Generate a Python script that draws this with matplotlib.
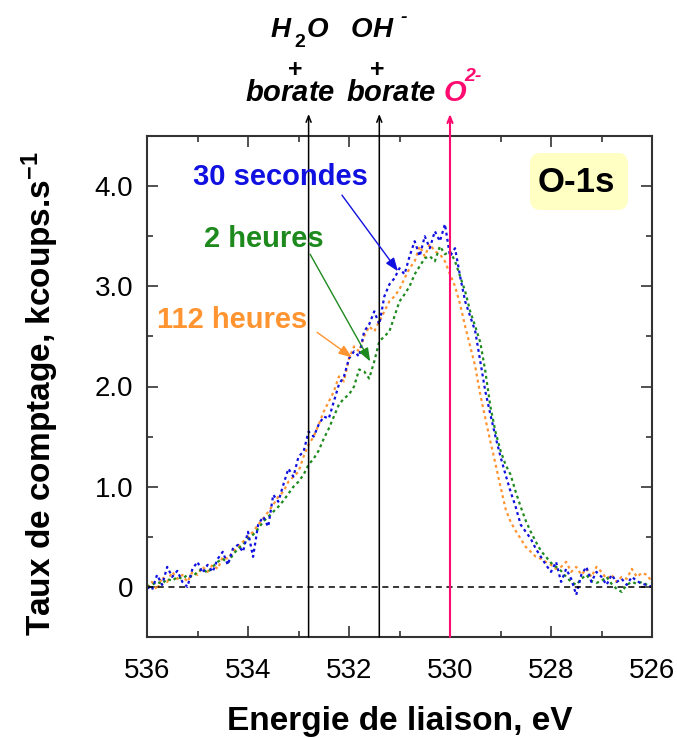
import numpy as np
import matplotlib
matplotlib.use("Agg")
import matplotlib.pyplot as plt
import matplotlib.font_manager as fm
from matplotlib.ticker import MultipleLocator, FuncFormatter
from matplotlib.patches import FancyBboxPatch

# binding energy grid, 536 -> 526 eV, 0.1 eV step
energy = np.round(np.arange(536.0, 525.95, -0.1), 1)

# 30 secondes (blue)
sec30 = [0.00, -0.03, 0.12, 0.02, 0.20, 0.10, 0.16, 0.05, 0.00, 0.18,
         0.25, 0.14, 0.22, 0.15, 0.28, 0.35, 0.22, 0.38, 0.42, 0.35,
         0.55, 0.30, 0.62, 0.70, 0.60, 0.92, 0.85, 1.02, 1.18, 1.10,
         1.30, 1.35, 1.55, 1.50, 1.62, 1.70, 1.68, 1.85, 2.02, 2.10,
         2.28, 2.35, 2.30, 2.55, 2.62, 2.75, 2.62, 2.90, 3.02, 3.08,
         3.18, 3.12, 3.30, 3.45, 3.30, 3.50, 3.38, 3.55, 3.45, 3.62,
         3.30, 3.38, 3.10, 2.85, 2.70, 2.55, 2.25, 1.95, 1.72, 1.50,
         1.30, 1.12, 0.95, 0.80, 0.62, 0.55, 0.48, 0.38, 0.30, 0.22,
         0.15, 0.25, 0.05, 0.18, 0.08, -0.08, 0.12, 0.20, 0.05, 0.15,
         0.10, 0.02, 0.12, 0.05, 0.08, 0.02, 0.10, 0.06, 0.03, 0.02,
         0.00]

# 2 heures (green)
h2 = [0.00, 0.02, 0.05, 0.03, 0.08, 0.06, 0.10, 0.08, 0.12, 0.10,
      0.15, 0.18, 0.14, 0.20, 0.25, 0.28, 0.24, 0.32, 0.38, 0.42,
      0.48, 0.52, 0.58, 0.65, 0.70, 0.75, 0.80, 0.86, 0.93, 1.00,
      1.05, 1.12, 1.22, 1.28, 1.36, 1.48, 1.58, 1.70, 1.82, 1.88,
      1.92, 2.00, 2.17, 2.15, 2.08, 2.25, 2.45, 2.50, 2.55, 2.70,
      2.85, 2.92, 3.00, 3.12, 3.20, 3.28, 3.30, 3.25, 3.40, 3.32,
      3.35, 3.25, 3.10, 2.95, 2.75, 2.60, 2.44, 2.15, 1.80, 1.55,
      1.36, 1.22, 1.12, 0.95, 0.80, 0.66, 0.55, 0.45, 0.36, 0.30,
      0.24, 0.20, 0.16, 0.10, 0.05, 0.02, 0.08, 0.12, 0.06, 0.04,
      0.06, 0.10, 0.03, -0.02, -0.05, 0.02, 0.05, 0.03, 0.05, 0.02,
      0.00]

# 112 heures (orange)
h112 = [0.00, 0.05, -0.03, 0.10, 0.05, 0.15, 0.08, 0.12, 0.05, 0.15,
        0.12, 0.20, 0.15, 0.22, 0.18, 0.30, 0.28, 0.35, 0.40, 0.45,
        0.50, 0.55, 0.62, 0.68, 0.75, 0.82, 0.90, 0.95, 1.05, 1.10,
        1.15, 1.30, 1.42, 1.50, 1.62, 1.75, 1.85, 1.95, 2.10, 2.05,
        2.28, 2.40, 2.35, 2.50, 2.60, 2.55, 2.65, 2.75, 2.85, 2.90,
        2.97, 3.08, 3.18, 3.25, 3.40, 3.30, 3.42, 3.35, 3.32, 3.25,
        3.12, 3.00, 2.82, 2.60, 2.40, 2.20, 1.92, 1.68, 1.45, 1.23,
        1.00, 0.78, 0.65, 0.56, 0.48, 0.40, 0.35, 0.30, 0.28, 0.25,
        0.22, 0.18, 0.20, 0.25, 0.15, 0.20, 0.12, 0.18, 0.10, 0.20,
        0.15, 0.08, 0.12, 0.05, 0.10, 0.08, 0.18, 0.10, 0.14, 0.12,
        0.05]

# reference positions (eV)
e_h2o = 532.8
e_oh = 531.4
e_o2 = 530.0

blue = "#1010E0"
green = "#1E8A1E"
orange = "#FF9430"
pink = "#FF0A6E"

names = {f.name for f in fm.fontManager.ttflist}
if "Liberation Sans Narrow" in names:
    tick_font = dict(family="Liberation Sans Narrow", size=24)
else:
    tick_font = dict(family="Liberation Sans", size=20)

plt.rcParams["font.family"] = ["Liberation Sans", "DejaVu Sans"]
plt.rcParams["mathtext.fontset"] = "custom"
plt.rcParams["mathtext.rm"] = "Liberation Sans:bold"
plt.rcParams["mathtext.bf"] = "Liberation Sans:bold"
plt.rcParams["mathtext.it"] = "Liberation Sans:italic:bold"

fig = plt.figure(figsize=(6.77, 7.38), dpi=100)
ax = fig.add_axes([147 / 677, 101 / 738, 505 / 677, 501 / 738])

ls = (0, (1.3, 1.5))
ax.plot(energy, h112, color=orange, lw=1.6, ls=ls)
ax.plot(energy, h2, color=green, lw=1.6, ls=ls)
ax.plot(energy, sec30, color=blue, lw=1.6, ls=ls)

ax.axhline(0, color="k", lw=1.1, ls=(0, (4, 3)))

ax.set_xlim(536, 526)
ax.set_ylim(-0.5, 4.5)
ax.xaxis.set_major_locator(MultipleLocator(2))
ax.xaxis.set_minor_locator(MultipleLocator(1))
ax.yaxis.set_major_locator(MultipleLocator(1))
ax.yaxis.set_minor_locator(MultipleLocator(0.5))
ax.yaxis.set_major_formatter(FuncFormatter(lambda v, p: "0" if abs(v) < 1e-9 else f"{v:.1f}"))
ax.tick_params(which="both", direction="in", top=True, right=True, width=1.2, color="#333333")
ax.tick_params(which="major", length=8)
ax.tick_params(which="minor", length=4)
ax.tick_params(axis="x", pad=15)
ax.tick_params(axis="y", pad=10)
for lab in ax.get_xticklabels() + ax.get_yticklabels():
    lab.set_fontfamily(tick_font["family"])
    lab.set_fontsize(tick_font["size"])
for s in ax.spines.values():
    s.set_linewidth(1.5)
    s.set_color("#333333")

ax.set_xlabel("Energie de liaison, eV", fontsize=24, fontweight="bold", labelpad=16)
fig.text(40 / 677, 1 - 394 / 738, r"Taux de comptage, kcoups.s$^{\mathrm{-1}}$",
         rotation=90, ha="center", va="center", fontsize=24, fontweight="bold")

# reference lines with arrows above the frame
for e, c, w in [(e_h2o, "k", 1.1), (e_oh, "k", 1.1), (e_o2, pink, 1.5)]:
    ax.annotate("", xy=(e, 4.72), xytext=(e, -0.5), annotation_clip=False,
                arrowprops=dict(arrowstyle="->,head_length=0.45,head_width=0.18",
                                color=c, lw=w, shrinkA=0, shrinkB=0))

bi = dict(fontweight="bold", fontstyle="italic", ha="center", va="center", clip_on=False)
mt = dict(ha="center", va="center", clip_on=False)
ax.text(533.35, 5.56, "H", fontsize=20, **bi)
ax.text(532.97, 5.43, r"$\mathit{2}$", fontsize=14, **mt)
ax.text(532.63, 5.56, "O", fontsize=20, **bi)
ax.text(531.76, 5.56, "O", fontsize=20, **bi)
ax.text(531.33, 5.56, "H", fontsize=20, **bi)
ax.text(530.91, 5.68, "-", fontsize=14, **bi)
ax.text(533.07, 5.18, r"$\mathbf{+}$", fontsize=18, **mt)
ax.text(531.45, 5.18, r"$\mathbf{+}$", fontsize=18, **mt)
ax.text(533.17, 4.93, r"$\mathit{borate}$", fontsize=21, **mt)
ax.text(531.17, 4.93, r"$\mathit{borate}$", fontsize=21, **mt)
ax.text(529.90, 4.93, "O", fontsize=21, color=pink, **bi)
ax.text(529.54, 5.09, "2-", fontsize=14, color=pink, **bi)

# series labels with arrows
arr = dict(arrowstyle="-|>,head_length=0.8,head_width=0.3", lw=1.0, shrinkA=0, shrinkB=0)
ax.annotate("", xy=(531.03, 3.15), xytext=(532.14, 3.91), arrowprops=dict(color=blue, **arr))
ax.annotate("", xy=(531.58, 2.25), xytext=(532.77, 3.32), arrowprops=dict(color=green, **arr))
ax.annotate("", xy=(531.94, 2.29), xytext=(532.63, 2.54), arrowprops=dict(color=orange, **arr))
ax.text(533.35, 4.09, "30 secondes", color=blue, fontsize=21, fontweight="bold", ha="center", va="center")
ax.text(533.68, 3.47, "2 heures", color=green, fontsize=21, fontweight="bold", ha="center", va="center")
ax.text(534.32, 2.66, "112 heures", color=orange, fontsize=21, fontweight="bold", ha="center", va="center")

# O-1s tag
box = FancyBboxPatch((530 / 677, 1 - 210 / 738), 98 / 677, 57 / 738,
                     boxstyle="round,pad=0,rounding_size=0.015", transform=fig.transFigure,
                     facecolor="#FFFFC4", edgecolor="none", zorder=3)
fig.patches.append(box)
fig.text(576 / 677, 1 - 182 / 738, "O-1s", fontsize=25, fontweight="bold",
         ha="center", va="center", zorder=4)

fig.savefig("out.png", dpi=100)
